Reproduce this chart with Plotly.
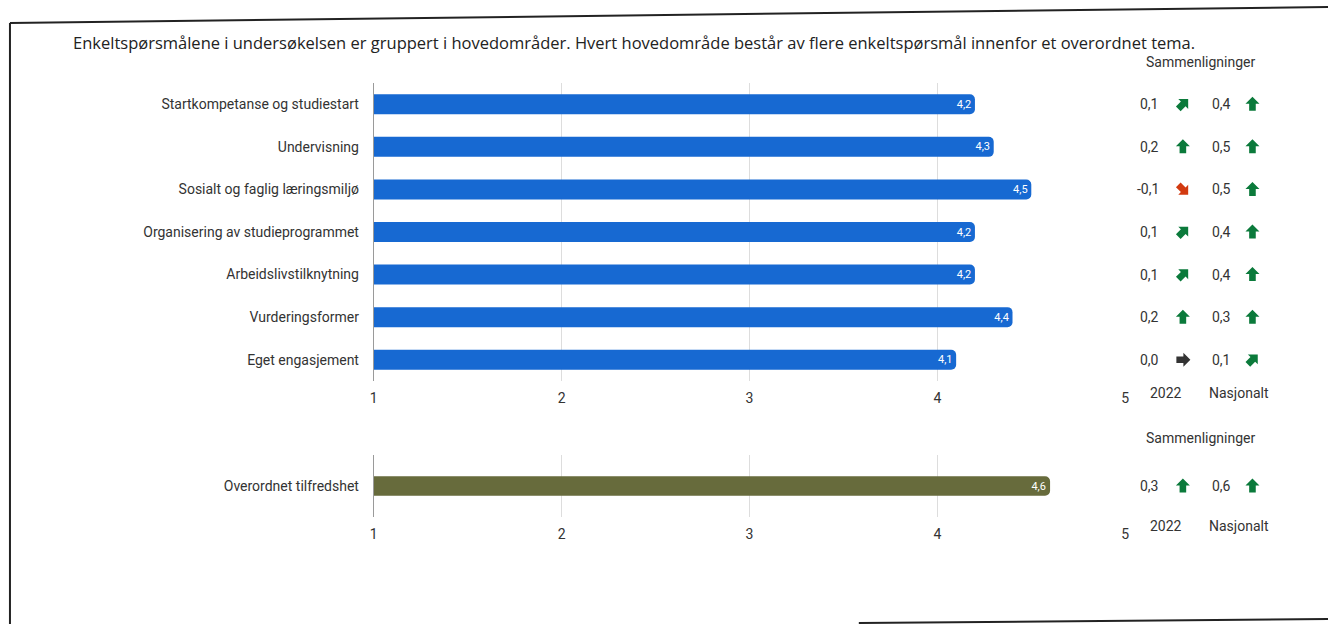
import math
import plotly.graph_objects as go

# ---------------- data ----------------
title_text = ("Enkeltspørsmålene i undersøkelsen er gruppert i hovedområder. "
              "Hvert hovedområde består av flere enkeltspørsmål innenfor et overordnet tema.")

categories = [
    "Startkompetanse og studiestart",
    "Undervisning",
    "Sosialt og faglig læringsmiljø",
    "Organisering av studieprogrammet",
    "Arbeidslivstilknytning",
    "Vurderingsformer",
    "Eget engasjement",
]
scores = [4.2, 4.3, 4.5, 4.2, 4.2, 4.4, 4.1]
diff_2022 = [0.1, 0.2, -0.1, 0.1, 0.1, 0.2, 0.0]
trend_2022 = ["upright", "up", "downright", "upright", "upright", "up", "right"]
diff_national = [0.4, 0.5, 0.5, 0.4, 0.4, 0.3, 0.1]
trend_national = ["up", "up", "up", "up", "up", "up", "upright"]

overall_category = ["Overordnet tilfredshet"]
overall_score = [4.6]
overall_diff_2022 = [0.3]
overall_trend_2022 = ["up"]
overall_diff_national = [0.6]
overall_trend_national = ["up"]

x_ticks = [1, 2, 3, 4, 5]
compare_header = "Sammenligninger"
compare_columns = ["2022", "Nasjonalt"]

# ---------------- styles ----------------
W, H = 1332, 624
BLUE = "#1769d2"
OLIVE = "#676b3c"
GREEN = "#0b7a3b"
RED = "#d23a10"
DARK = "#333333"
FONT = "Roboto"
FS = 14
arrow_angle = {"up": 0, "upright": 45, "right": 90, "downright": 135}
arrow_color = {"up": GREEN, "upright": GREEN, "right": DARK, "downright": RED}

# block-arrow outline (pixels, pointing up, centred on 0,0)
ARROW = [(0, 7.5), (7, 0.5), (3.3, 0.5), (3.3, -6.5), (-3.3, -6.5), (-3.3, 0.5), (-7, 0.5)]


def px_x(v):
    return v / W


def px_y(v):
    return 1 - v / H


def fmt(v):
    return f"{v:.1f}".replace(".", ",")


def arrow_path(deg):
    t = math.radians(deg)
    c, s = math.cos(t), math.sin(t)
    pts = [(x * c + y * s, -x * s + y * c) for x, y in ARROW]
    return "M" + "L".join(f"{x:.2f},{y:.2f}" for x, y in pts) + "Z"


x_dom = [px_x(372), px_x(1128)]
y_dom_top = [px_y(381), px_y(83)]
y_dom_bot = [px_y(517), px_y(455)]

fig = go.Figure()

fig.add_trace(go.Bar(
    x=scores, y=categories, orientation="h",
    marker=dict(color=BLUE, line=dict(width=0)),
    texttemplate="%{x:.1f}", textposition="inside", insidetextanchor="end",
    textfont=dict(color="white", size=11, family=FONT),
    xaxis="x", yaxis="y", hoverinfo="skip", showlegend=False,
))
fig.add_trace(go.Bar(
    x=overall_score, y=overall_category, orientation="h",
    marker=dict(color=OLIVE, line=dict(width=0)),
    texttemplate="%{x:.1f}", textposition="inside", insidetextanchor="end",
    textfont=dict(color="white", size=11, family=FONT),
    xaxis="x2", yaxis="y2", hoverinfo="skip", showlegend=False,
))

axis_common = dict(
    range=[1, 5], tickvals=x_ticks, showgrid=True, gridcolor="#dddddd",
    gridwidth=1, zeroline=False, ticks="outside", ticklen=4,
    tickcolor="rgba(0,0,0,0)", tickfont=dict(family=FONT, size=FS, color=DARK),
    showline=False, fixedrange=True,
)
ycommon = dict(showline=True, linecolor="#9a9a9a", linewidth=1,
               ticks="outside", ticklen=11, tickcolor="rgba(0,0,0,0)",
               tickfont=dict(family=FONT, size=FS, color=DARK),
               showgrid=False, fixedrange=True, type="category")
fig.update_layout(
    xaxis=dict(domain=x_dom, anchor="y", **axis_common),
    xaxis2=dict(domain=x_dom, anchor="y2", **axis_common),
    yaxis=dict(domain=y_dom_top, anchor="x", categoryarray=categories,
               range=[len(categories) - 0.5, -0.5], **ycommon),
    yaxis2=dict(domain=y_dom_bot, anchor="x2", range=[0.75, -0.75], **ycommon),
    bargap=0.53,
    barcornerradius=5,
    separators=",.",
    width=W, height=H,
    margin=dict(l=0, r=0, t=0, b=0),
    paper_bgcolor="white", plot_bgcolor="white",
    font=dict(family=FONT, color=DARK),
)

annotations = [dict(
    text=title_text, xref="paper", yref="paper", x=px_x(67), y=px_y(43),
    xanchor="left", yanchor="middle", showarrow=False,
    font=dict(family="Open Sans", size=16.5, color="#222222"),
)]
shapes = []

# comparison columns (pixel positions of the columns)
col_val_right = [px_x(1164), px_x(1236)]
col_arrow = [px_x(1186), px_x(1256)]
col_label = [px_x(1169), px_x(1242)]
header_x = px_x(1204)


def add_rows(cats, d1, t1, d2, t2, yref):
    for cat, a, ta, b, tb in zip(cats, d1, t1, d2, t2):
        for i, (val, tr) in enumerate([(a, ta), (b, tb)]):
            annotations.append(dict(
                text=fmt(val), xref="paper", yref=yref, x=col_val_right[i], y=cat,
                xanchor="right", yanchor="middle", showarrow=False,
                font=dict(family=FONT, size=FS, color=DARK),
            ))
            shapes.append(dict(
                type="path", xref="paper", yref=yref,
                xsizemode="pixel", ysizemode="pixel",
                xanchor=col_arrow[i], yanchor=cat,
                path=arrow_path(arrow_angle[tr]),
                fillcolor=arrow_color[tr], line=dict(width=0),
            ))


add_rows(categories, diff_2022, trend_2022, diff_national, trend_national, "y")
add_rows(overall_category, overall_diff_2022, overall_trend_2022,
         overall_diff_national, overall_trend_national, "y2")

for hy, fy in [(62, 393), (438, 526)]:
    annotations.append(dict(
        text=compare_header, xref="paper", yref="paper", x=header_x, y=px_y(hy),
        xanchor="center", yanchor="middle", showarrow=False,
        font=dict(family=FONT, size=FS, color=DARK),
    ))
    for i, lab in enumerate(compare_columns):
        annotations.append(dict(
            text=lab, xref="paper", yref="paper", x=col_label[i], y=px_y(fy),
            xanchor="center", yanchor="middle", showarrow=False,
            font=dict(family=FONT, size=FS, color=DARK),
        ))

# scanned page frame
frame = [
    ((6, 23), (1332, 7)),
    ((6, 23), (6, 624)),
    ((860, 623), (1332, 619)),
]
for a, b in frame:
    shapes.append(dict(type="line", xref="paper", yref="paper",
                       x0=px_x(a[0]), y0=px_y(a[1]), x1=px_x(b[0]), y1=px_y(b[1]),
                       line=dict(color="#222222", width=2)))

fig.update_layout(annotations=annotations, shapes=shapes)

fig.write_html("out.html", config={"displayModeBar": False},
               post_script="document.body.style.margin='0';document.body.style.overflow='hidden';")
